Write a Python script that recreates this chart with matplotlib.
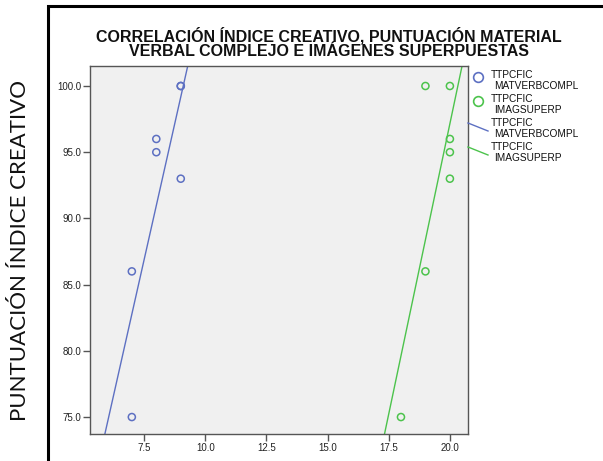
import numpy as np
import matplotlib
matplotlib.use("Agg")
import matplotlib.pyplot as plt
from matplotlib.lines import Line2D
from matplotlib.patches import Rectangle

# data
verb_x = [9, 9, 8, 8, 9, 7, 7]
verb_y = [100, 100, 96, 95, 93, 86, 75]
imag_x = [19, 20, 20, 20, 20, 19, 18]
imag_y = [100, 100, 96, 95, 93, 86, 75]

x_ticks = [7.5, 10.0, 12.5, 15.0, 17.5, 20.0]
y_ticks = [75.0, 80.0, 85.0, 90.0, 95.0, 100.0]

blue = "#5d70c2"
green = "#4cc34c"

plt.rcParams['font.family'] = ['Liberation Sans', 'DejaVu Sans']

W, H = 603, 461
fig = plt.figure(figsize=(W / 100, H / 100), dpi=100)

# outer black frame (cut off at right and bottom)
fig.patches.append(Rectangle((48 / W, -0.1), 1.2, (H - 6) / H + 0.1,
                             transform=fig.transFigure, fill=False,
                             edgecolor="black", linewidth=2.2))

ax = fig.add_axes([90 / W, 27 / H, 378 / W, 368 / H])
ax.set_facecolor("#f0f0f0")
for s in ax.spines.values():
    s.set_color("#555555")
    s.set_linewidth(1.0)

ax.scatter(verb_x, verb_y, s=26, facecolors="none", edgecolors=blue, linewidths=1.1, zorder=3)
ax.scatter(imag_x, imag_y, s=26, facecolors="none", edgecolors=green, linewidths=1.1, zorder=3)

xlim = (5.29, 20.74)
ylim = (73.72, 101.51)

# fit lines (x as function of y so they run across the full height)
for xs, ys, c in [(verb_x, verb_y, blue), (imag_x, imag_y, green)]:
    m, b = np.polyfit(xs, ys, 1)
    yy = np.array(ylim)
    ax.plot((yy - b) / m, yy, color=c, linewidth=1.0, zorder=2)

ax.set_xlim(xlim)
ax.set_ylim(ylim)
ax.set_xticks(x_ticks)
ax.set_xticklabels([f"{v:.1f}" for v in x_ticks])
ax.set_yticks(y_ticks)
ax.set_yticklabels([f"{v:.1f}" for v in y_ticks])
ax.tick_params(direction="out", length=5, width=1, color="#555555",
               labelsize=7, pad=1.5, labelcolor="#222222")

fig.text(329 / W, 1 - 43 / H,
         "CORRELACIÓN ÍNDICE CREATIVO, PUNTUACIÓN MATERIAL\nVERBAL COMPLEJO E IMÁGENES SUPERPUESTAS",
         ha="center", va="center", fontsize=11.5, fontweight="bold",
         linespacing=0.9, color="#111111")

fig.text(20 / W, 1 - 250 / H, "PUNTUACIÓN ÍNDICE CREATIVO", rotation=90,
         ha="center", va="center", fontsize=16, family=["Lato", "DejaVu Sans"],
         color="#111111")

# legend drawn at the right of the plot
def fx(px):
    return px / W

def fy(py):
    return 1 - py / H

fig.add_artist(Line2D([fx(478)], [fy(77)], marker="o", markersize=7,
                      markerfacecolor="none", markeredgecolor=blue, markeredgewidth=1.2,
                      transform=fig.transFigure))
fig.add_artist(Line2D([fx(478)], [fy(101)], marker="o", markersize=7,
                      markerfacecolor="none", markeredgecolor=green, markeredgewidth=1.2,
                      transform=fig.transFigure))
fig.add_artist(Line2D([fx(468), fx(488)], [fy(123), fy(131)], color=blue,
                      linewidth=1.0, transform=fig.transFigure))
fig.add_artist(Line2D([fx(468), fx(488)], [fy(147), fy(155)], color=green,
                      linewidth=1.0, transform=fig.transFigure))

entries = [("MATVERBCOMPL", 75), ("IMAGSUPERP", 99), ("MATVERBCOMPL", 123), ("IMAGSUPERP", 147)]
for name, py in entries:
    fig.text(fx(491), fy(py), "TTPCFIC", ha="left", va="center", fontsize=7.3, color="#111111")
    fig.text(fx(494), fy(py + 11), name, ha="left", va="center", fontsize=7.3, color="#111111")

fig.savefig("out.png", dpi=100)
